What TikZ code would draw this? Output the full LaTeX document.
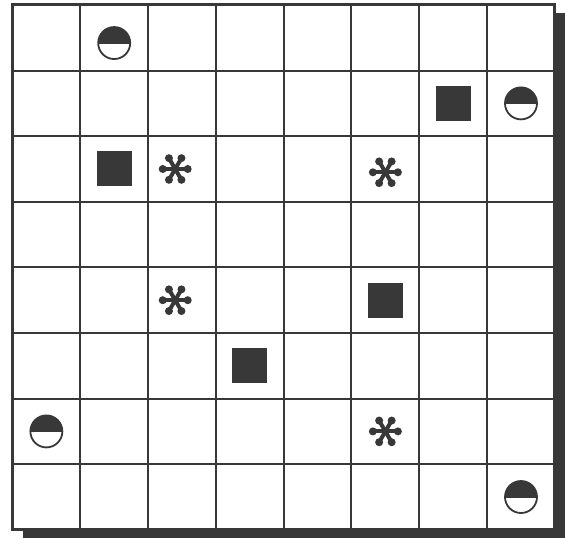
\documentclass[tikz,border=0pt]{standalone}
\usepackage{tikz}

\definecolor{ink}{gray}{0.22}

\begin{document}
\begin{tikzpicture}[x=67.8pt, y=-65.6pt,
    rule/.style={line width=2pt, draw=ink},
    blok/.style={fill=ink, minimum size=35pt, inner sep=0pt},
    disc/.style={circle, draw=ink, line width=1.8pt, fill=white, minimum size=32pt, inner sep=0pt,
        path picture={\fill[ink] (path picture bounding box.north west) rectangle ([yshift=-1pt]path picture bounding box.east);}},
    arm/.style={line width=4pt, draw=ink}]
    \useasboundingbox (-0.184,-0.076) rectangle (8.149,8.125);

    % shadow and board
    \fill[ink] (0.15,0.12) rectangle (8.149,8.125);
    \fill[white] (0,0) rectangle (8,8);
    \foreach \i in {1,...,7} {
        \draw[rule] (\i,0) -- (\i,8);
        \draw[rule] (0,\i) -- (8,\i);
    }
    \draw[rule, line width=3pt] (0,0) rectangle (8,8);

    % half discs
    \node[disc] (d1) at (1.5,0.58) {};
    \node[disc] (d2) at (7.5,1.5) {};
    \node[disc] (d3) at (0.5,6.5) {};
    \node[disc] (d4) at (7.5,7.5) {};

    % squares
    \node[blok] (b1) at (6.5,1.5) {};
    \node[blok] (b2) at (1.5,2.5) {};
    \node[blok] (b3) at (5.5,4.5) {};
    \node[blok] (b4) at (3.5,5.5) {};

    % asterisks
    \foreach \name/\x/\y in {s1/2.4/2.5, s2/5.5/2.55, s3/2.4/4.5, s4/5.5/6.5} {
        \coordinate (\name) at (\x,\y);
        \foreach \a in {0,60,...,300} {
            \draw[arm] (\name) -- ++(\a:11pt);
            \fill[ink] (\name) ++(\a:12.5pt) circle (4pt);
        }
    }
\end{tikzpicture}
\end{document}
